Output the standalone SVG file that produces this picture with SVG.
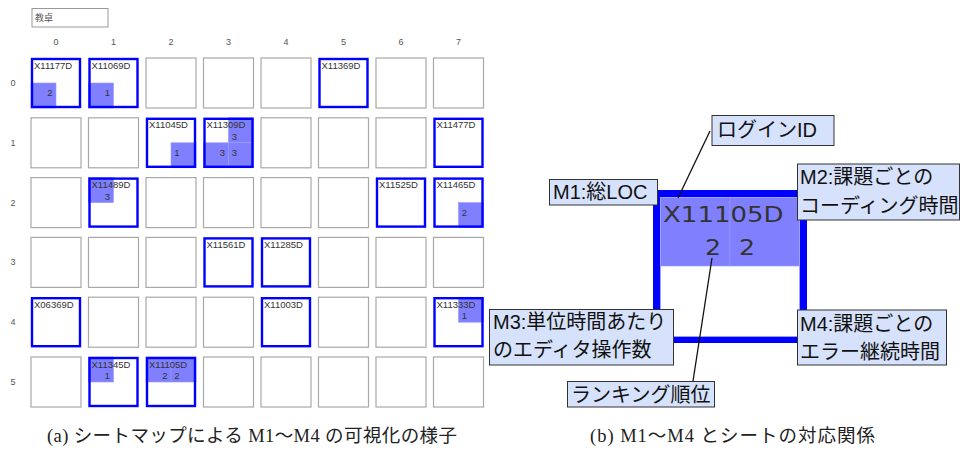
<svg xmlns="http://www.w3.org/2000/svg" width="962" height="450" viewBox="0 0 962 450">
<style>
.lbl{font-family:"Liberation Sans","Noto Sans CJK JP",sans-serif;font-size:9px;fill:#555}
.ax{font-family:"Liberation Sans",sans-serif;font-size:9px;fill:#555;text-anchor:middle}
.idt{font-family:"Liberation Sans",sans-serif;font-size:9.5px;fill:#333}
.num{font-family:"Liberation Sans",sans-serif;font-size:9.5px;fill:#333;text-anchor:middle}
.empty{fill:#fff;stroke:#a8a8a8;stroke-width:1.2}
.bg{fill:#fff}
.seat{fill:none;stroke:#0000ff;stroke-width:2.4}
.q{fill:#8080ff;stroke:#9898ff;stroke-width:0.6}
.box{fill:#d6e2fb;stroke:#333;stroke-width:1}
.bt{font-family:"Liberation Sans","Noto Sans CJK JP",sans-serif;font-size:20px;fill:#111}
.big{font-family:"DejaVu Sans",sans-serif;font-size:21px;fill:#333}
.cap{font-family:"Liberation Serif","Noto Sans CJK JP",serif;font-size:18.5px;fill:#222}
.conn{stroke:#111;stroke-width:1.3;fill:none}
</style>
<rect width="962" height="450" fill="#fff"/>

<!-- (a) seat map -->
<g id="kyotaku">
<rect x="32" y="8.5" width="76" height="18.5" fill="#fff" stroke="#999" stroke-width="1"/>
<text class="lbl" x="35" y="20.5">教卓</text>
</g>
<g id="axis-labels">
<text class="ax" x="56" y="45">0</text>
<text class="ax" x="113.5" y="45">1</text>
<text class="ax" x="171" y="45">2</text>
<text class="ax" x="228.5" y="45">3</text>
<text class="ax" x="286" y="45">4</text>
<text class="ax" x="343.5" y="45">5</text>
<text class="ax" x="401" y="45">6</text>
<text class="ax" x="458.5" y="45">7</text>
<text class="ax" x="13" y="86">0</text>
<text class="ax" x="13" y="145.8">1</text>
<text class="ax" x="13" y="205.6">2</text>
<text class="ax" x="13" y="265.4">3</text>
<text class="ax" x="13" y="325.2">4</text>
<text class="ax" x="13" y="385">5</text>
</g>

<!-- empty cells -->
<g id="cell-r0c2" transform="translate(146,58)"><rect class="empty" width="50" height="50"/></g>
<g id="cell-r0c3" transform="translate(203.5,58)"><rect class="empty" width="50" height="50"/></g>
<g id="cell-r0c4" transform="translate(261,58)"><rect class="empty" width="50" height="50"/></g>
<g id="cell-r0c6" transform="translate(376,58)"><rect class="empty" width="50" height="50"/></g>
<g id="cell-r0c7" transform="translate(433.5,58)"><rect class="empty" width="50" height="50"/></g>
<g id="cell-r1c0" transform="translate(31,117.8)"><rect class="empty" width="50" height="50"/></g>
<g id="cell-r1c1" transform="translate(88.5,117.8)"><rect class="empty" width="50" height="50"/></g>
<g id="cell-r1c4" transform="translate(261,117.8)"><rect class="empty" width="50" height="50"/></g>
<g id="cell-r1c5" transform="translate(318.5,117.8)"><rect class="empty" width="50" height="50"/></g>
<g id="cell-r1c6" transform="translate(376,117.8)"><rect class="empty" width="50" height="50"/></g>
<g id="cell-r2c0" transform="translate(31,177.6)"><rect class="empty" width="50" height="50"/></g>
<g id="cell-r2c2" transform="translate(146,177.6)"><rect class="empty" width="50" height="50"/></g>
<g id="cell-r2c3" transform="translate(203.5,177.6)"><rect class="empty" width="50" height="50"/></g>
<g id="cell-r2c4" transform="translate(261,177.6)"><rect class="empty" width="50" height="50"/></g>
<g id="cell-r2c5" transform="translate(318.5,177.6)"><rect class="empty" width="50" height="50"/></g>
<g id="cell-r3c0" transform="translate(31,237.4)"><rect class="empty" width="50" height="50"/></g>
<g id="cell-r3c1" transform="translate(88.5,237.4)"><rect class="empty" width="50" height="50"/></g>
<g id="cell-r3c2" transform="translate(146,237.4)"><rect class="empty" width="50" height="50"/></g>
<g id="cell-r3c5" transform="translate(318.5,237.4)"><rect class="empty" width="50" height="50"/></g>
<g id="cell-r3c6" transform="translate(376,237.4)"><rect class="empty" width="50" height="50"/></g>
<g id="cell-r3c7" transform="translate(433.5,237.4)"><rect class="empty" width="50" height="50"/></g>
<g id="cell-r4c1" transform="translate(88.5,297.2)"><rect class="empty" width="50" height="50"/></g>
<g id="cell-r4c2" transform="translate(146,297.2)"><rect class="empty" width="50" height="50"/></g>
<g id="cell-r4c3" transform="translate(203.5,297.2)"><rect class="empty" width="50" height="50"/></g>
<g id="cell-r4c5" transform="translate(318.5,297.2)"><rect class="empty" width="50" height="50"/></g>
<g id="cell-r4c6" transform="translate(376,297.2)"><rect class="empty" width="50" height="50"/></g>
<g id="cell-r5c0" transform="translate(31,357)"><rect class="empty" width="50" height="50"/></g>
<g id="cell-r5c3" transform="translate(203.5,357)"><rect class="empty" width="50" height="50"/></g>
<g id="cell-r5c4" transform="translate(261,357)"><rect class="empty" width="50" height="50"/></g>
<g id="cell-r5c5" transform="translate(318.5,357)"><rect class="empty" width="50" height="50"/></g>
<g id="cell-r5c6" transform="translate(376,357)"><rect class="empty" width="50" height="50"/></g>
<g id="cell-r5c7" transform="translate(433.5,357)"><rect class="empty" width="50" height="50"/></g>

<!-- occupied seats -->
<g id="seat-X11177D" transform="translate(31,58)"><rect class="bg" width="50" height="50"/><rect class="q" x="0" y="25" width="25" height="25"/><rect class="seat" x="1" y="1" width="48" height="48"/><text class="idt" x="3" y="10.5">X11177D</text><text class="num" x="19" y="38">2</text></g>
<g id="seat-X11069D" transform="translate(88.5,58)"><rect class="bg" width="50" height="50"/><rect class="q" x="0" y="25" width="25" height="25"/><rect class="seat" x="1" y="1" width="48" height="48"/><text class="idt" x="3" y="10.5">X11069D</text><text class="num" x="19" y="38">1</text></g>
<g id="seat-X11369D" transform="translate(318.5,58)"><rect class="bg" width="50" height="50"/><rect class="seat" x="1" y="1" width="48" height="48"/><text class="idt" x="3" y="10.5">X11369D</text></g>
<g id="seat-X11045D" transform="translate(146,117.8)"><rect class="bg" width="50" height="50"/><rect class="q" x="25" y="25" width="25" height="25"/><rect class="seat" x="1" y="1" width="48" height="48"/><text class="idt" x="3" y="10.5">X11045D</text><text class="num" x="31" y="38">1</text></g>
<g id="seat-X11309D" transform="translate(203.5,117.8)"><rect class="bg" width="50" height="50"/><rect class="q" x="25" y="0" width="25" height="25"/><rect class="q" x="0" y="25" width="25" height="25"/><rect class="q" x="25" y="25" width="25" height="25"/><rect class="seat" x="1" y="1" width="48" height="48"/><text class="idt" x="3" y="10.5">X11309D</text><text class="num" x="31" y="22">3</text><text class="num" x="19" y="38">3</text><text class="num" x="31" y="38">3</text></g>
<g id="seat-X11477D" transform="translate(433.5,117.8)"><rect class="bg" width="50" height="50"/><rect class="seat" x="1" y="1" width="48" height="48"/><text class="idt" x="3" y="10.5">X11477D</text></g>
<g id="seat-X11489D" transform="translate(88.5,177.6)"><rect class="bg" width="50" height="50"/><rect class="q" x="0" y="0" width="25" height="25"/><rect class="seat" x="1" y="1" width="48" height="48"/><text class="idt" x="3" y="10.5">X11489D</text><text class="num" x="19" y="22">3</text></g>
<g id="seat-X11525D" transform="translate(376,177.6)"><rect class="bg" width="50" height="50"/><rect class="seat" x="1" y="1" width="48" height="48"/><text class="idt" x="3" y="10.5">X11525D</text></g>
<g id="seat-X11465D" transform="translate(433.5,177.6)"><rect class="bg" width="50" height="50"/><rect class="q" x="25" y="25" width="25" height="25"/><rect class="seat" x="1" y="1" width="48" height="48"/><text class="idt" x="3" y="10.5">X11465D</text><text class="num" x="31" y="38">2</text></g>
<g id="seat-X11561D" transform="translate(203.5,237.4)"><rect class="bg" width="50" height="50"/><rect class="seat" x="1" y="1" width="48" height="48"/><text class="idt" x="3" y="10.5">X11561D</text></g>
<g id="seat-X11285D" transform="translate(261,237.4)"><rect class="bg" width="50" height="50"/><rect class="seat" x="1" y="1" width="48" height="48"/><text class="idt" x="3" y="10.5">X11285D</text></g>
<g id="seat-X06369D" transform="translate(31,297.2)"><rect class="bg" width="50" height="50"/><rect class="seat" x="1" y="1" width="48" height="48"/><text class="idt" x="3" y="10.5">X06369D</text></g>
<g id="seat-X11003D" transform="translate(261,297.2)"><rect class="bg" width="50" height="50"/><rect class="seat" x="1" y="1" width="48" height="48"/><text class="idt" x="3" y="10.5">X11003D</text></g>
<g id="seat-X11333D" transform="translate(433.5,297.2)"><rect class="bg" width="50" height="50"/><rect class="q" x="25" y="0" width="25" height="25"/><rect class="seat" x="1" y="1" width="48" height="48"/><text class="idt" x="3" y="10.5">X11333D</text><text class="num" x="31" y="22">1</text></g>
<g id="seat-X11345D" transform="translate(88.5,357)"><rect class="bg" width="50" height="50"/><rect class="q" x="0" y="0" width="25" height="25"/><rect class="seat" x="1" y="1" width="48" height="48"/><text class="idt" x="3" y="10.5">X11345D</text><text class="num" x="19" y="22">1</text></g>
<g id="seat-X11105D" transform="translate(146,357)"><rect class="bg" width="50" height="50"/><rect class="q" x="0" y="0" width="25" height="25"/><rect class="q" x="25" y="0" width="25" height="25"/><rect class="seat" x="1" y="1" width="48" height="48"/><text class="idt" x="3" y="10.5">X11105D</text><text class="num" x="19" y="22">2</text><text class="num" x="31" y="22">2</text></g>

<!-- (b) detail -->
<g id="detail-seat">
<rect x="653" y="190" width="154" height="153" fill="#fff"/>
<rect class="q" x="660" y="197" width="70" height="69"/>
<rect class="q" x="730" y="197" width="70" height="69"/>
<rect x="656.5" y="193.5" width="147" height="146" fill="none" stroke="#0000ff" stroke-width="7"/>
<rect x="660.5" y="197.5" width="139" height="139" fill="none" stroke="#a0a0ff" stroke-width="1"/>
<text class="big" transform="translate(663,222) scale(1.24,1)">X11105D</text>
<text class="big" transform="translate(713,255) scale(1.2,1)" text-anchor="middle">2</text>
<text class="big" transform="translate(747,255) scale(1.2,1)" text-anchor="middle">2</text>
</g>

<g id="connectors">
<line class="conn" x1="710" y1="131" x2="678" y2="198"/>
<line class="conn" x1="693" y1="381" x2="712" y2="258"/>
</g>

<g id="label-login"><rect class="box" x="712" y="115.5" width="122" height="30"/><text class="bt" x="717" y="137">ログインID</text></g>
<g id="label-m1"><rect class="box" x="549.5" y="179.5" width="108" height="25.5"/><text class="bt" x="553" y="199">M1:総LOC</text></g>
<g id="label-m2"><rect class="box" x="797.5" y="164" width="162" height="56"/><text class="bt" x="800" y="184">M2:課題ごとの</text><text class="bt" x="800" y="213">コーディング時間</text></g>
<g id="label-m3"><rect class="box" x="489.5" y="309.5" width="184" height="55.5"/><text class="bt" x="493" y="329">M3:単位時間あたり</text><text class="bt" x="493" y="357">のエディタ操作数</text></g>
<g id="label-m4"><rect class="box" x="797.5" y="310" width="149" height="55"/><text class="bt" x="800" y="331">M4:課題ごとの</text><text class="bt" x="800" y="359">エラー継続時間</text></g>
<g id="label-rank"><rect class="box" x="567.5" y="381.5" width="147" height="25.5"/><text class="bt" x="571" y="402">ランキング順位</text></g>

<text class="cap" x="47" y="442" textLength="410" lengthAdjust="spacing">(a) シートマップによる M1〜M4 の可視化の様子</text>
<text class="cap" x="590" y="442" textLength="285" lengthAdjust="spacing">(b) M1〜M4 とシートの対応関係</text>
</svg>
